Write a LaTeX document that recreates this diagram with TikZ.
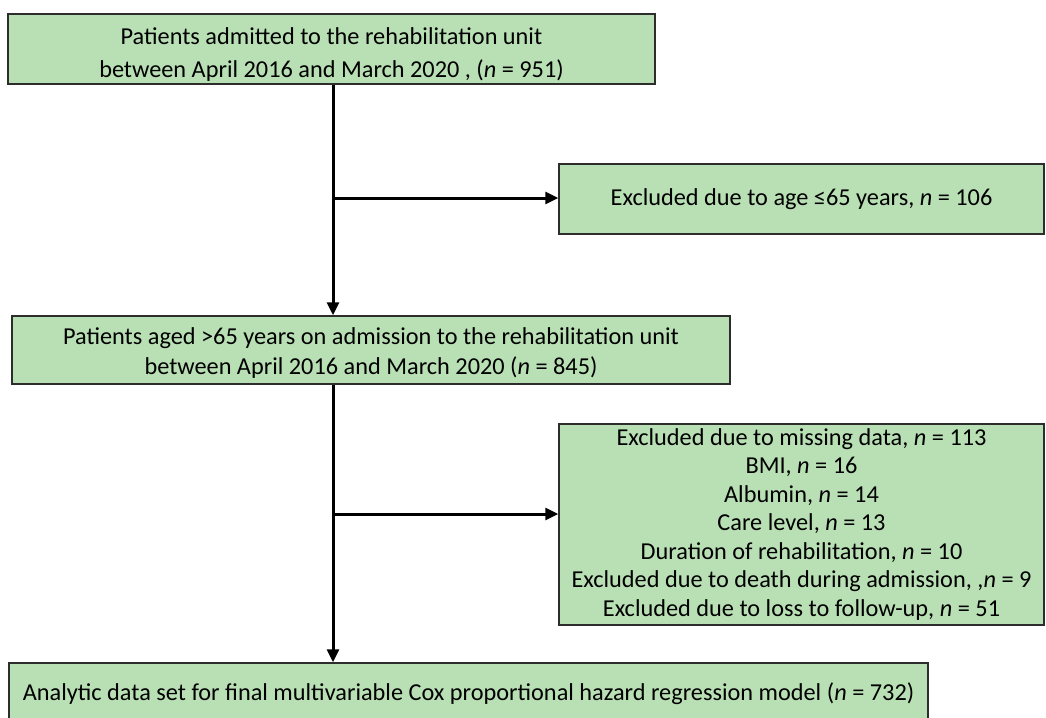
\documentclass[tikz,border=0pt]{standalone}
\usepackage{fontspec}
\setmainfont{Carlito}
\usepackage{tikz}
\usetikzlibrary{positioning, arrows.meta}

\definecolor{boxgreen}{RGB}{185,224,180}
\definecolor{boxline}{RGB}{45,45,45}

\tikzset{
    flowbox/.style={draw=boxline, line width=1.5pt, fill=boxgreen, align=center,
        inner sep=0pt, font=\fontsize{24.3}{33}\selectfont},
    exclbox/.style={flowbox, font=\fontsize{24.3}{28.5}\selectfont},
    boxtext/.style={align=center, inner sep=0pt, font=\fontsize{24.3}{#1}\selectfont},
    flowarrow/.style={line width=3pt, -{Triangle[length=13pt, width=12pt]}}
}

\begin{document}
\begin{tikzpicture}[x=1pt, y=-1pt]
    \useasboundingbox (0,0) rectangle (1046,717);
    % boxes
    \node[flowbox, minimum width=647pt, minimum height=70pt,
        label={[boxtext=33, yshift=-6pt]center:{Patients admitted to the rehabilitation unit\\between April 2016 and March 2020 , (\textit{n} = 951)}}]
        (admit) at (331.5,49) {};
    \node[flowbox, minimum width=485pt, minimum height=70pt] (age) at (801.5,199)
        {Excluded due to age ≤65 years, \textit{n} = 106};
    \node[flowbox, minimum width=718pt, minimum height=68pt,
        label={[boxtext=30, yshift=-3pt]center:{Patients aged >65 years on admission to the rehabilitation unit\\between April 2016 and March 2020 (\textit{n} = 845)}}]
        (aged) at (371,350) {};
    \node[exclbox, minimum width=485pt, minimum height=201pt] (missing) at (801.5,524.5)
        {Excluded due to missing data, \textit{n} = 113\\
         BMI, \textit{n} = 16\\
         Albumin, \textit{n} = 14\\
         Care level, \textit{n} = 13\\
         Duration of rehabilitation, \textit{n} = 10\\
         Excluded due to death during admission, ,\textit{n} = 9\\
         Excluded due to loss to follow-up, \textit{n} = 51};
    \node[flowbox, minimum width=919pt, minimum height=62pt] (final) at (468.5,694)
        {Analytic data set for final multivariable Cox proportional hazard regression model (\textit{n} = 732)};

    % connectors
    \coordinate (top) at (333,0 |- admit.south);
    \coordinate (split1) at (333,198);
    \coordinate (mid) at (333,0 |- aged.south);
    \coordinate (split2) at (333,514);
    \draw[flowarrow] (top) -- (top |- aged.north);
    \draw[flowarrow] (split1) -- (split1 -| age.west);
    \draw[flowarrow] (mid) -- (mid |- final.north);
    \draw[flowarrow] (split2) -- (split2 -| missing.west);
\end{tikzpicture}
\end{document}
